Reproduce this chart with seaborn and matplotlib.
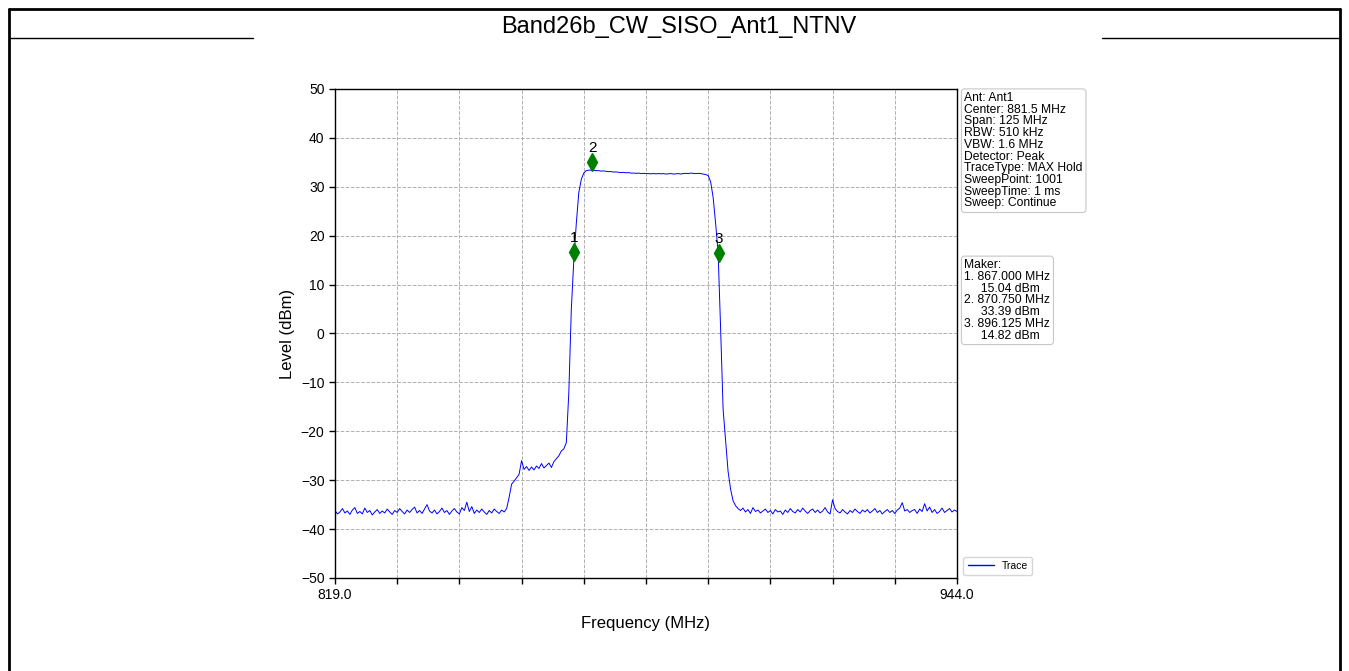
import numpy as np
import matplotlib
matplotlib.use("Agg")
import matplotlib.pyplot as plt
from matplotlib.lines import Line2D
import seaborn as sns

# spectrum trace, 0.5 MHz steps from 819.0 to 944.0 MHz
freq_start = 819.0
freq_stop = 944.0
trace_levels = [
    -36.2, -36.9, -36.5, -35.8, -36.7, -36.3, -37.0, -36.1, -35.6, -36.8,
    -36.4, -36.9, -35.7, -36.6, -36.2, -37.1, -36.5, -36.0, -36.8, -36.3,
    -36.7, -35.9, -36.5, -37.0, -36.2, -36.6, -35.8, -36.4, -36.9, -36.1,
    -36.6, -36.0, -35.5, -36.7, -36.2, -36.8, -35.9, -35.0, -36.3, -36.7,
    -36.1, -36.9, -36.4, -35.7, -36.6, -36.2, -37.0, -36.3, -35.8, -36.5,
    -36.9, -35.6, -36.2, -34.5, -36.4, -35.4, -36.8, -36.1, -36.6, -35.9,
    -36.5, -37.0, -36.2, -36.7, -35.9, -36.4, -36.8, -36.1, -36.5, -35.8,
    -33.5, -30.8, -30.2, -29.5, -28.8, -26.0, -27.8, -27.2, -28.0, -27.3,
    -27.9, -27.1, -27.6, -26.6, -27.5, -27.0, -26.5, -27.4, -26.2, -25.6,
    -25.0, -24.0, -23.6, -22.3, -12.0, 5.0, 15.0, 22.5, 28.8, 31.5,
    32.8, 33.3, 33.4, 33.4, 33.35, 33.3, 33.3, 33.2, 33.25, 33.15,
    33.1, 33.1, 33.0, 33.05, 32.95, 32.9, 32.95, 32.85, 32.9, 32.8,
    32.8, 32.75, 32.8, 32.7, 32.75, 32.7, 32.7, 32.65, 32.7, 32.65,
    32.7, 32.65, 32.7, 32.6, 32.65, 32.7, 32.6, 32.65, 32.7, 32.6,
    32.7, 32.75, 32.7, 32.8, 32.75, 32.7, 32.75, 32.7, 32.6, 32.5,
    32.3, 31.0, 27.8, 22.5, 16.5, 1.0, -15.5, -21.8, -28.2, -31.8,
    -34.2, -35.2, -35.8, -36.2, -35.7, -36.5, -36.0, -36.8, -35.6, -36.4,
    -36.1, -36.7, -36.3, -35.9, -36.6, -36.2, -36.9, -36.0, -36.5, -36.3,
    -37.0, -36.1, -36.6, -35.8, -36.4, -36.7, -36.0, -36.5, -35.7, -36.3,
    -36.8, -36.2, -35.9, -36.6, -36.1, -36.7, -36.3, -35.6, -36.5, -36.9,
    -34.0, -35.8, -36.4, -36.7, -36.0, -36.5, -36.9, -36.2, -36.6, -35.9,
    -36.4, -36.8, -36.1, -36.5, -36.0, -36.7, -36.3, -35.8, -36.6, -36.2,
    -36.9, -36.4, -36.0, -36.6, -36.2, -36.8, -36.1, -35.7, -34.6, -36.3,
    -36.0, -36.6, -36.2, -36.0, -36.8, -35.9, -36.4, -34.8, -36.3, -35.5,
    -36.6, -36.0, -36.8, -36.4, -35.7, -36.6, -36.2, -35.8, -36.5, -36.1,
    -36.4,
]
trace_freq = np.linspace(freq_start, freq_stop, len(trace_levels))

marker_ids = ["1", "2", "3"]
marker_freq = [867.000, 870.750, 896.125]
marker_level = [15.04, 33.39, 14.82]

settings_text = ["Ant: Ant1", "Center: 881.5 MHz", "Span: 125 MHz", "RBW: 510 kHz",
                 "VBW: 1.6 MHz", "Detector: Peak", "TraceType: MAX Hold",
                 "SweepPoint: 1001", "SweepTime: 1 ms", "Sweep: Continue"]

title = "Band26b_CW_SISO_Ant1_NTNV"

sns.set_style("white")
plt.rcParams['font.family'] = ['Liberation Sans', 'DejaVu Sans']
plt.rcParams['text.color'] = 'black'
plt.rcParams['axes.labelcolor'] = 'black'
plt.rcParams['xtick.color'] = 'black'
plt.rcParams['ytick.color'] = 'black'

fig = plt.figure(figsize=(13.49, 6.71), dpi=100)
ax = fig.add_axes([0.2483, 0.1386, 0.4611, 0.7288])

sns.lineplot(x=trace_freq, y=trace_levels, color='blue', linewidth=0.7,
             legend=False, ax=ax)

# markers drawn slightly above the trace like the analyzer screenshot
ax.plot(marker_freq, [v + 1.7 for v in marker_level], linestyle='none',
        marker='d', color='green', markersize=9)
for m, f, v in zip(marker_ids, marker_freq, marker_level):
    ax.annotate(m, (f, v + 1.7), xytext=(0, 5), textcoords='offset points',
                ha='center', va='bottom', fontsize=11)

ax.set_xlim(freq_start, freq_stop)
ax.set_ylim(-50, 50)
xt = np.arange(freq_start, freq_stop + 0.1, 12.5)
ax.set_xticks(xt)
ax.set_xticklabels(["%.1f" % t if t in (freq_start, freq_stop) else "" for t in xt])
ax.set_yticks(np.arange(-50, 51, 10))
ax.tick_params(axis='both', direction='out', length=4, width=1, labelsize=10,
               bottom=True, left=True, color='black')
ax.grid(True, linestyle='--', color='#b0b0b0', linewidth=0.7)
for s in ax.spines.values():
    s.set_visible(True)
    s.set_color('black')
    s.set_linewidth(1)

ax.set_xlabel("Frequency (MHz)", fontsize=12, labelpad=10)
ax.set_ylabel("Level (dBm)", fontsize=12, labelpad=4)

trace_handle = Line2D([], [], color='#0000ff', linewidth=1.0)
ax.legend([trace_handle], ['Trace'], loc='lower left', bbox_to_anchor=(1.002, -0.005),
          fontsize=7.5, frameon=True, edgecolor='#cccccc', handlelength=2.5)

box = dict(boxstyle='round,pad=0.25', facecolor='white', edgecolor='#c8c8c8', linewidth=0.8)
ax.text(1.012, 0.994, "\n".join(settings_text), transform=ax.transAxes,
        fontsize=8.7, va='top', ha='left', linespacing=0.97, bbox=box)
maker_text = "Maker:\n" + "\n".join(
    "%s. %.3f MHz\n     %.2f dBm" % (m, f, v)
    for m, f, v in zip(marker_ids, marker_freq, marker_level))
ax.text(1.012, 0.652, maker_text, transform=ax.transAxes,
        fontsize=8.7, va='top', ha='left', linespacing=0.97, bbox=box)

# report frame and title band
fig.text(0.5033, 0.9600, title, ha='center', va='center', fontsize=17)
lw = 2
fig.add_artist(Line2D([0.0067, 0.9933], [0.9866, 0.9866], color='black', lw=lw))
fig.add_artist(Line2D([0.0067, 0.0067], [0.0, 0.9866], color='black', lw=lw))
fig.add_artist(Line2D([0.9933, 0.9933], [0.0, 0.9866], color='black', lw=lw))
fig.add_artist(Line2D([0.0067, 0.1876], [0.9434, 0.9434], color='black', lw=1))
fig.add_artist(Line2D([0.8169, 0.9933], [0.9434, 0.9434], color='black', lw=1))

fig.savefig("out.png", dpi=100)
